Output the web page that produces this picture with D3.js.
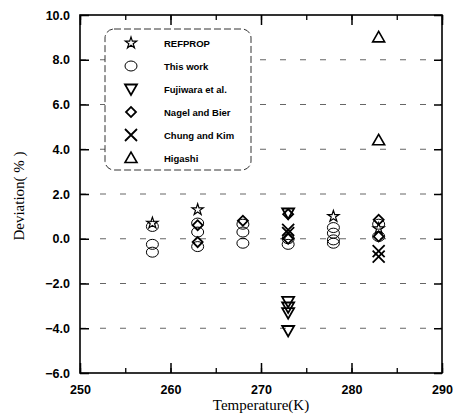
<!DOCTYPE html>
<html><head><meta charset="utf-8">
<script src="https://cdn.jsdelivr.net/npm/d3@7"></script>
<style>body{margin:0;background:#fff}</style>
</head><body><svg id="c" width="457" height="416"></svg>
<script>
const xTicks = [250, 260, 270, 280, 290];
const yTicks = [-6, -4, -2, 0, 2, 4, 6, 8, 10];
const seriesNames = ["REFPROP", "This work", "Fujiwara et al.", "Nagel and Bier", "Chung and Kim", "Higashi"];
const refprop = [[258, 0.7], [263, 1.3], [278, 1.0], [283, 0.45]];
const thisWork = [[258, 0.55], [258, -0.25], [258, -0.6], [263, 0.7], [263, 0.3], [263, -0.35],
  [268, 0.65], [268, 0.3], [268, -0.2], [273, 0.0], [273, -0.25],
  [278, 0.5], [278, 0.25], [278, -0.05], [278, -0.2], [283, 0.65], [283, 0.1]];
const fujiwara = [[273, 1.15], [273, -2.8], [273, -3.05], [273, -3.3], [273, -4.1]];
const nagel = [[263, 0.6], [263, -0.15], [268, 0.8], [273, 1.1], [273, 0.0], [283, 0.85], [283, 0.1]];
const chung = [[273, 0.4], [273, 0.25], [283, -0.55], [283, -0.8]];
const higashi = [[283, 9.0], [283, 4.4]];

const svg = d3.select("#c");
const L = 80, R = 442, T = 15, B = 373;
const x = d3.scaleLinear().domain([250, 290]).range([L, R]);
const y = d3.scaleLinear().domain([-6, 10]).range([B, T]);

// gridlines
svg.append("g").selectAll("line").data(yTicks.filter(v => v > -6 && v < 10)).join("line")
  .attr("x1", L).attr("x2", R).attr("y1", d => y(d)).attr("y2", d => y(d))
  .attr("stroke", "#666").attr("stroke-width", 1).attr("stroke-dasharray", "6,14");

// axes
const ax = (g) => g.selectAll(".domain").remove();
svg.append("g").attr("transform", `translate(0,${B})`)
  .call(d3.axisBottom(x).tickValues(d3.range(250, 291, 5)).tickSize(-5).tickFormat(""))
  .call(ax).call(g => g.selectAll("line").attr("stroke-width", 1.3));
svg.append("g").attr("transform", `translate(0,${B})`)
  .call(d3.axisBottom(x).tickValues(xTicks).tickSize(-10).tickPadding(12).tickFormat(d3.format("d")))
  .call(ax).call(g => g.selectAll("line").attr("stroke-width", 1.5))
  .call(g => g.selectAll("text").attr("font-family", "Liberation Sans, Arial").attr("font-weight", "bold").attr("font-size", 12.5));
svg.append("g").attr("transform", `translate(0,${T})`)
  .call(d3.axisTop(x).tickValues(d3.range(250, 291, 5)).tickSize(-5).tickFormat(""))
  .call(ax).call(g => g.selectAll("line").attr("stroke-width", 1.3));
svg.append("g").attr("transform", `translate(0,${T})`)
  .call(d3.axisTop(x).tickValues(xTicks).tickSize(-10).tickFormat(""))
  .call(ax).call(g => g.selectAll("line").attr("stroke-width", 1.5));
svg.append("g").attr("transform", `translate(${L},0)`)
  .call(d3.axisLeft(y).tickValues(yTicks).tickSize(-9).tickPadding(10).tickFormat(d3.format(".1f")))
  .call(ax).call(g => g.selectAll("line").attr("stroke-width", 1.5))
  .call(g => g.selectAll("text").attr("font-family", "Liberation Sans, Arial").attr("font-weight", "bold").attr("font-size", 12.5));
svg.append("g").attr("transform", `translate(${R},0)`)
  .call(d3.axisRight(y).tickValues(yTicks).tickSize(-8).tickFormat(""))
  .call(ax).call(g => g.selectAll("line").attr("stroke-width", 1.5));
svg.append("rect").attr("x", L).attr("y", T).attr("width", R - L).attr("height", B - T)
  .attr("fill", "none").attr("stroke", "#000").attr("stroke-width", 1.6);

// axis titles
svg.append("text").attr("x", 261).attr("y", 410).attr("text-anchor", "middle")
  .attr("font-family", "Liberation Serif, Times New Roman").attr("font-size", 15).text("Temperature(K)");
svg.append("text").attr("transform", "translate(24,196) rotate(-90)").attr("text-anchor", "middle")
  .attr("font-family", "Liberation Serif, Times New Roman").attr("font-size", 15).text("Deviation( % )");

// markers
const sym = {
  "REFPROP": d3.symbol().type(d3.symbolStar).size(40),
  "Nagel and Bier": d3.symbol().type(d3.symbolSquare).size(50)
};
function drawMarker(g, name) {
  if (name === "This work") {
    g.append("ellipse").attr("rx", 6).attr("ry", 5).attr("fill", "none").attr("stroke", "#000").attr("stroke-width", 1);
  } else if (name === "Fujiwara et al.") {
    g.append("path").attr("d", "M-6,-4.5L6,-4.5L0,6Z").attr("fill", "none").attr("stroke", "#000").attr("stroke-width", 1.8);
  } else if (name === "Higashi") {
    g.append("path").attr("d", "M-6,4.5L6,4.5L0,-6Z").attr("fill", "none").attr("stroke", "#000").attr("stroke-width", 1.6);
  } else if (name === "Nagel and Bier") {
    g.append("path").attr("d", sym[name]()).attr("transform", "rotate(45)").attr("fill", "none").attr("stroke", "#000").attr("stroke-width", 1.8);
  } else if (name === "Chung and Kim") {
    g.append("path").attr("d", "M-6,-6L6,6M-6,6L6,-6").attr("fill", "none").attr("stroke", "#000").attr("stroke-width", 1.8);
  } else {
    g.append("path").attr("d", sym[name]()).attr("fill", "none").attr("stroke", "#000").attr("stroke-width", 1.2);
  }
}
const dataSets = [["This work", thisWork], ["Nagel and Bier", nagel], ["Fujiwara et al.", fujiwara],
  ["Chung and Kim", chung], ["REFPROP", refprop], ["Higashi", higashi]];
dataSets.forEach(([name, data]) => {
  data.forEach(d => {
    const g = svg.append("g").attr("transform", `translate(${x(d[0])},${y(d[1])})`);
    drawMarker(g, name);
  });
});

// legend
const lg = svg.append("g");
lg.append("rect").attr("x", 105).attr("y", 29).attr("width", 146).attr("height", 141).attr("rx", 9)
  .attr("fill", "#fff").attr("stroke", "#333").attr("stroke-width", 1).attr("stroke-dasharray", "7,3");
seriesNames.forEach((n, i) => {
  const yy = 43 + i * 23;
  const g = lg.append("g").attr("transform", `translate(131,${yy})`);
  drawMarker(g, n);
  lg.append("text").attr("x", 164).attr("y", yy + 3.5).attr("font-family", "Liberation Sans, Arial")
    .attr("font-weight", "bold").attr("font-size", 9.5).text(n);
});
</script></body></html>
